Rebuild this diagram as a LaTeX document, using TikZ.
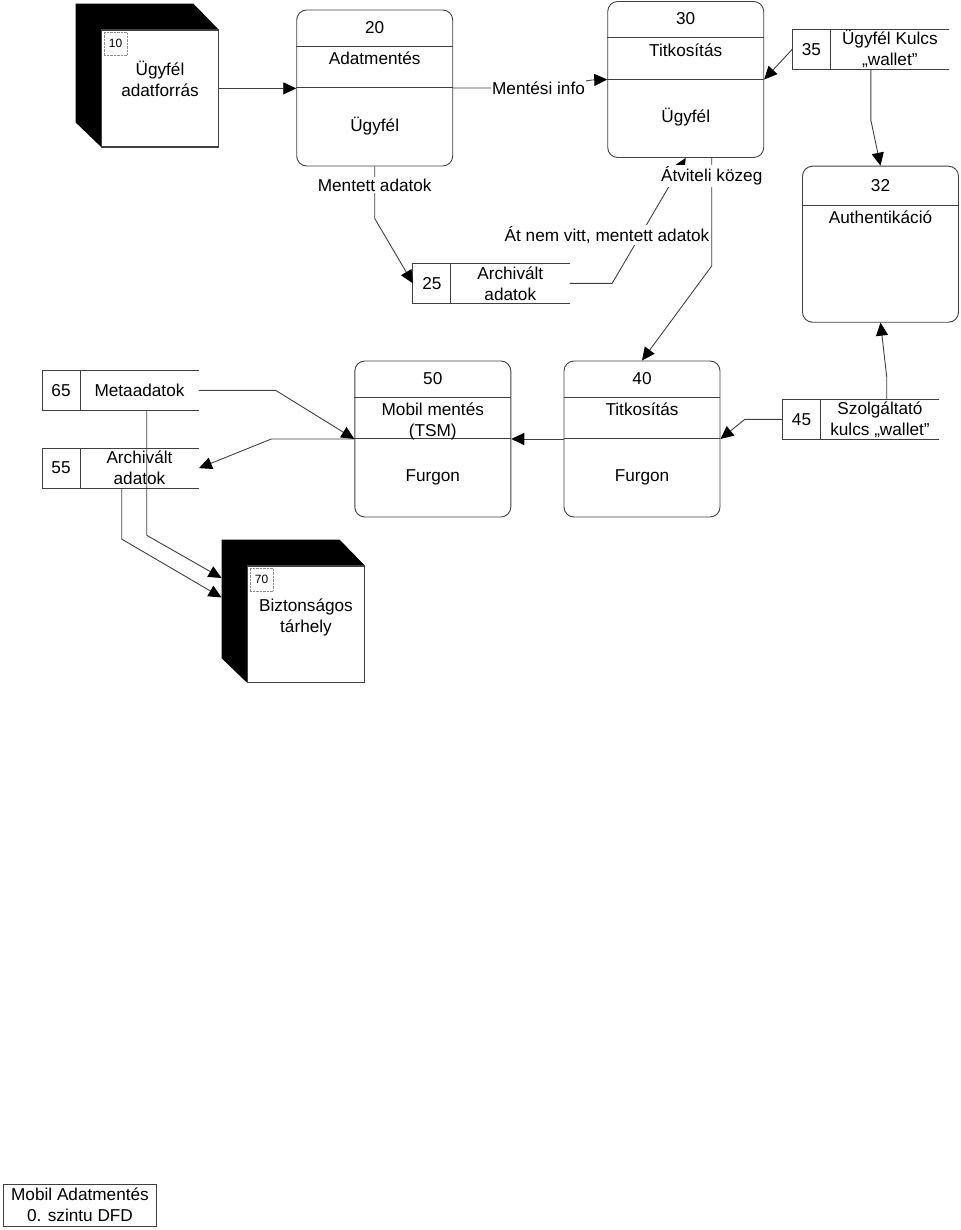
\documentclass[tikz,border=0pt]{standalone}
\usepackage{fontspec}
\setmainfont{Liberation Sans}
\usetikzlibrary{arrows.meta,calc}
\tikzset{
  ln/.style={draw=black!75, line width=0.9pt},
  arr/.style={ln, -{Triangle[length=13pt,width=12pt,color=black]}},
  proc/.style={ln, rounded corners=10pt, minimum width=156pt, minimum height=156pt, inner sep=0pt},
  ent/.style={ln, fill=white, minimum width=116.6pt, minimum height=116.5pt, inner sep=0pt},
  store/.style={minimum width=156.5pt, minimum height=39.5pt, inner sep=0pt},
  txt/.style={font=\fontsize{17.2}{21}\selectfont, align=center, inner sep=0pt},
  lbl/.style={txt, fill=white, inner sep=1.5pt},
  idbox/.style={draw=black!45, densely dotted, font=\fontsize{12}{14}\selectfont, minimum size=23pt, inner sep=0pt},
  capbox/.style={ln, txt, minimum width=153pt, minimum height=42pt},
}
\newcommand{\dfdproc}[5]{%
  \node[proc] (#1) at (#2) {};
  \draw[ln] ($(#1.north west)+(0,36.5)$) -- ($(#1.north east)+(0,36.5)$);
  \draw[ln] ($(#1.north west)+(0,78)$) -- ($(#1.north east)+(0,78)$);
  \node[txt] (#1id) at ($(#1.north)+(0,18)$) {#3};
  \node[txt, anchor=north] (#1ti) at ($(#1.north)+(0,42.5)$) {#4};
  \node[txt] (#1lo) at ($(#1.north)+(0,116.5)$) {#5};
}
\newcommand{\dfdstore}[4]{%
  \node[store] (#1) at (#2) {};
  \draw[ln] (#1.north east) -- (#1.north west) -- (#1.south west) -- (#1.south east);
  \draw[ln] ($(#1.north west)+(38,0)$) -- ($(#1.south west)+(38,0)$);
  \node[txt] (#1id) at ($(#1.west)+(19,0)$) {#3};
  \node[txt] (#1tx) at ($(#1.center)+(19,0)$) {#4};
}
\newcommand{\dfdent}[5]{%
  \node[ent] (#1) at (#2) {};
  \fill[black] ($(#1.north west)+(-25.7,-26)$) -- ($(#1.north east)+(-25.3,-26)$) -- (#1.north east) -- (#1.north west) -- (#1.south west) -- ($(#1.south west)+(-25.7,-24.7)$) -- cycle;
  \draw[ln] (#1.north west) rectangle (#1.south east);
  \node[idbox] (#1id) at ($(#1.north west)+(14.3,14)$) {#3};
  \node[txt] (#1tx) at ($(#1.center)+(0,#5)$) {#4};
}
\begin{document}
\begin{tikzpicture}[x=1pt,y=-1pt]
\useasboundingbox (0,0) rectangle (960,1230);

% external entities
\dfdent{e10}{160,88.4}{10}{Ügyfél\\adatforrás}{-9.4}
\dfdent{e70}{306,624.2}{70}{Biztonságos\\tárhely}{-7.2}

% processes
\dfdproc{p20}{374.7,88}{20}{Adatmentés}{Ügyfél}
\dfdproc{p30}{685.7,79.5}{30}{Titkosítás}{Ügyfél}
\dfdproc{p50}{432.8,439}{50}{Mobil mentés\\(TSM)}{Furgon}
\dfdproc{p40}{642,439}{40}{Titkosítás}{Furgon}

\node[proc] (p32) at (880.5,244.2) {};
\draw[ln] ($(p32.north west)+(0,39.5)$) -- ($(p32.north east)+(0,39.5)$);
\node[txt] (p32id) at ($(p32.north)+(0,20)$) {32};
\node[txt] (p32ti) at ($(p32.north)+(0,52)$) {Authentikáció};

% data stores
\dfdstore{s35}{870.85,49.15}{35}{Ügyfél Kulcs\\„wallet”}
\dfdstore{s25}{491.3,283.35}{25}{Archivált\\adatok}
\dfdstore{s45}{861,419.3}{45}{Szolgáltató\\kulcs „wallet”}
\dfdstore{s65}{120.5,390.35}{65}{Metaadatok}
\dfdstore{s55}{120.5,468.15}{55}{Archivált\\adatok}

% connectors
\draw[arr] (e10.east) -- (e10.east -| p20.west);
\draw[arr] (p20.east) -- (540,88) -- (592,80) -- (p30.west);
\draw[arr] (s35.west) -- (p30.east);
\draw[arr] (s35.south) -- ++(0,51) -- (p32.north);
\draw[arr] ($(s45.north)+(25.7,0)$) -- ++(0,-22.5) -- (p32.south);
\draw[arr] (s45.west) -- ++(-37.7,0) -- (p40.east);
\draw[arr] (p40.west) -- (p50.east);
\draw[arr] (p50.west) -- ++(-83,0) -- (s55.east);
\draw[arr] (s65.east) -- ++(76.7,0) -- (p50.west);
\coordinate (t70a) at ($(e70.north west)+(-25.7,12.5)$);
\coordinate (t70b) at ($(e70.north west)+(-25.7,32)$);
\draw[arr] ($(s65.south)+(26.2,0)$) -- ++(0,125) -- (t70a);
\draw[arr] ($(s55.south)+(1.2,0)$) -- ++(0,51) -- (t70b);
\draw[arr] (p20.south) -- ++(0,52) -- (s25.west);
\draw[arr] (s25.east) -- ++(42.4,0) -- (p30.south);
\draw[arr] ($(p30.south)+(26,0)$) -- ++(0,108) -- (p40.north);

% connector labels
\node[lbl] (lmi) at (538.5,88) {Mentési info};
\node[lbl] (lma) at (374.7,185) {Mentett adatok};
\node[lbl] (lan) at (607,235) {Át nem vitt, mentett adatok};
\node[lbl] (lak) at (711.7,176) {Átviteli közeg};

% caption
\node[capbox] (cap) at (80,1205) {Mobil Adatmentés\\0. szintu DFD};
\end{tikzpicture}
\end{document}
